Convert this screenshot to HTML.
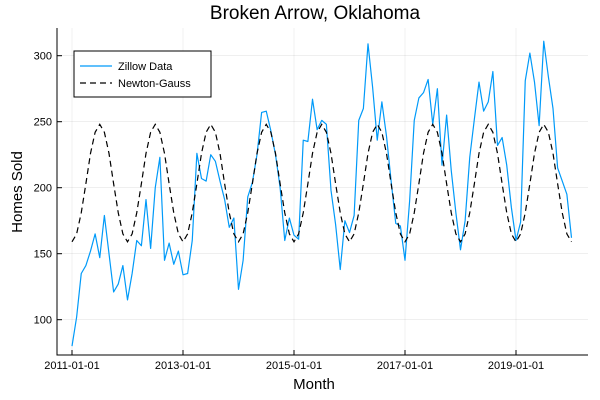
<!DOCTYPE html>
<html><head><meta charset="utf-8"><style>
body{margin:0;background:#fff}
svg{display:block;font-family:"Liberation Sans",sans-serif}
</style></head><body>
<svg id="chart" width="600" height="400">
<text x="315" y="19" text-anchor="middle" font-size="19" fill="#000">Broken Arrow, Oklahoma</text>
<g id="grid"></g>
<g id="axes"></g>
<g id="series"></g>
<text x="314" y="389" text-anchor="middle" font-size="15">Month</text>
<text transform="translate(22,192) rotate(-90)" text-anchor="middle" font-size="15">Homes Sold</text>
<g>
<rect x="74" y="51" width="137" height="46" fill="#fff" stroke="#000" stroke-width="1"/>
<line x1="80" y1="66" x2="112" y2="66" stroke="#009af9" stroke-width="1.2"/>
<text x="118" y="70" font-size="11">Zillow Data</text>
<line x1="80" y1="83" x2="112" y2="83" stroke="#000" stroke-width="1.2" stroke-dasharray="6,4"/>
<text x="118" y="87" font-size="11">Newton-Gauss</text>
</g>
</svg>
<script>
const zillow=[80,102,135,141,152,165,147,179,150,121,127,141,
115,135,160,156,191,154,200,223,145,158,142,152,
134,135,160,226,207,205,225,220,205,191,170,177,
123,145,193,204,225,257,258,243,225,200,160,177,
164,161,236,235,267,244,251,248,198,172,138,175,
166,179,251,260,309,276,236,265,239,205,173,171,
145,190,251,268,272,282,248,275,217,255,213,181,
153,175,223,252,280,258,265,288,232,238,217,185,
160,174,281,302,280,247,311,284,260,215,205,195,162];
const fit=[159,165,181,203,226,242,248,242,226,203,181,165,
159,165,181,203,226,242,248,242,226,203,181,165,
159,165,181,203,226,242,248,242,226,203,181,165,
159,165,181,203,226,242,248,242,226,203,181,165,
159,165,181,203,226,242,248,242,226,203,181,165,
159,165,181,203,226,242,248,242,226,203,181,165,
159,165,181,203,226,242,248,242,226,203,181,165,
159,165,181,203,226,242,248,242,226,203,181,165,
159,165,181,203,226,242,248,242,226,203,181,165,159];
const yTicks=[100,150,200,250,300];
const xTickMonths=[0,24,48,72,96];
const xTickLabels=["2011-01-01","2013-01-01","2015-01-01","2017-01-01","2019-01-01"];
const L=57,R=588,T=28,B=355;
const xs=m=>72+m*4.625;
const ys=v=>121.7-(v-250)*66/50;
const NS="http://www.w3.org/2000/svg";
function mk(tag,attrs,parent){const e=document.createElementNS(NS,tag);for(const k in attrs)e.setAttribute(k,attrs[k]);parent.appendChild(e);return e;}
const grid=document.getElementById('grid'),axes=document.getElementById('axes'),series=document.getElementById('series');
yTicks.forEach(v=>{
 const g=mk('line',{x1:L,x2:R,y1:ys(v),y2:ys(v),stroke:'#000','stroke-opacity':0.1,'stroke-width':0.6},grid);
 
 
 const t=mk('line',{x1:L,x2:L+5,y1:ys(v),y2:ys(v),stroke:'#000'},axes);
 
 
 const l=mk('text',{x:L-5,y:ys(v)+4,'text-anchor':'end','font-size':11},axes);
 l.textContent=v;
 
 
});
xTickMonths.forEach((m,i)=>{
 const g=mk('line',{x1:xs(m),x2:xs(m),y1:T,y2:B,stroke:'#000','stroke-opacity':0.1,'stroke-width':0.6},grid);
 
 
 const t=mk('line',{x1:xs(m),x2:xs(m),y1:B,y2:B-5,stroke:'#000'},axes);
 
 
 const l=mk('text',{x:xs(m),y:B+14,'text-anchor':'middle','font-size':11},axes);
 l.textContent=xTickLabels[i];
 
 
});
const ax=mk('path',{d:`M${L},${T}V${B}H${R}`,fill:'none',stroke:'#000','stroke-width':1},axes);


const p1=mk('polyline',{points:zillow.map((v,i)=>xs(i)+','+ys(v)).join(' '),fill:'none',stroke:'#009af9','stroke-width':1.2,'stroke-linejoin':'round'},series);


const p2=mk('polyline',{points:fit.map((v,i)=>xs(i)+','+ys(v)).join(' '),fill:'none',stroke:'#000','stroke-width':1.2,'stroke-dasharray':'6,4'},series);


</script>
</body></html>
